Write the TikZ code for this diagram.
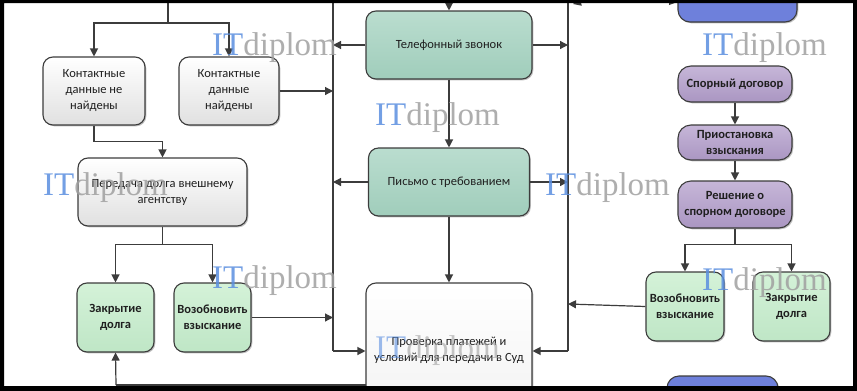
\documentclass[tikz,border=0pt]{standalone}
\usepackage{fontspec}
\setmainfont{Carlito}
\newfontfamily\wmfont{Liberation Serif}
\usetikzlibrary{arrows.meta,shadows}
\definecolor{lnc}{HTML}{3C3C3C}
\definecolor{itblue}{HTML}{5B8FE0}
\definecolor{dipgray}{HTML}{A0A0A0}
\definecolor{tealtop}{HTML}{BADDCF}
\definecolor{tealbot}{HTML}{A0CDBB}
\definecolor{greentop}{HTML}{D4F2D8}
\definecolor{greenbot}{HTML}{BFE6C6}
\definecolor{purptop}{HTML}{C6B6D8}
\definecolor{purpbot}{HTML}{AA96C2}
\definecolor{bluefill}{HTML}{6E80DB}
\tikzset{
  box/.style={draw=lnc, line width=1.1pt, rounded corners=10pt, align=center, inner sep=2pt,
    font=\fontsize{12.5}{16}\selectfont, text=black!88,
    drop shadow={shadow xshift=1.3pt, shadow yshift=-1.3pt, opacity=0.25, fill=black}},
  greybox/.style={box, top color=white, bottom color=black!12},
  tealbox/.style={box, top color=tealtop, bottom color=tealbot},
  greenbox/.style={box, top color=greentop, bottom color=greenbot, font=\fontsize{12.5}{16}\selectfont\bfseries},
  purplebox/.style={box, rounded corners=13pt, top color=purptop, bottom color=purpbot, font=\fontsize{12.5}{16}\selectfont\bfseries},
  bluebox/.style={box, rounded corners=12pt, fill=bluefill},
  whitebox/.style={box, top color=white, bottom color=black!5},
  lin/.style={draw=lnc, line width=1.2pt},
  arr/.style={lin, -{Triangle[length=8pt,width=8pt]}},
  wm/.style={inner sep=0pt, anchor=base west, font=\wmfont\fontsize{33}{33}\selectfont, opacity=0.85},
}
\begin{document}
\begin{tikzpicture}[x=1pt,y=-1pt]
\useasboundingbox (0,0) rectangle (857,391);
\fill[white] (0,0) rectangle (857,391);

% ---------- coordinates ----------
\coordinate (topL) at (168,0);
\coordinate (jL) at (168,23);
\coordinate (topC) at (449,0);
\coordinate (busLtop) at (333,0);
\coordinate (busLbot) at (333,351);
\coordinate (busRtop) at (568,0);
\coordinate (busRbot) at (568,351);
\coordinate (prOut) at (366,385);
\coordinate (corner) at (116,385);
\coordinate (vzIn) at (568,304);

% ---------- nodes ----------
\node[greybox, minimum width=102pt, minimum height=68pt] (kn) at (94,91) {Контактные\\данные не\\найдены};
\node[greybox, minimum width=100pt, minimum height=68pt] (kf) at (229,91) {Контактные\\данные\\найдены};
\node[greybox, minimum width=169pt, minimum height=68pt] (pd) at (162.5,192) {Передача долга внешнему\\агентству};
\node[greenbox, minimum width=77pt, minimum height=69pt] (zd1) at (115.5,317.5) {Закрытие\\долга};
\node[greenbox, minimum width=77pt, minimum height=69pt] (vz1) at (212.5,317.5) {Возобновить\\взыскание};

\node[tealbox, minimum width=166pt, minimum height=68pt] (tz) at (449,45) {Телефонный звонок};
\node[tealbox, minimum width=161pt, minimum height=68pt] (pt) at (449,182) {Письмо с требованием};
\node[whitebox, minimum width=166pt, minimum height=134pt] (pr) at (449,350) {Проверка платежей и\\условий для передачи в Суд};

\node[bluebox, minimum width=119pt, minimum height=40pt] (bt) at (737.5,2) {};
\node[purplebox, minimum width=114pt, minimum height=36pt] (sd) at (735,84) {Спорный договор};
\node[purplebox, minimum width=114pt, minimum height=35pt] (pv) at (735,142.5) {Приостановка\\взыскания};
\node[purplebox, minimum width=114pt, minimum height=47pt] (rs) at (735,204.5) {Решение о\\спорном договоре};
\node[greenbox, minimum width=78pt, minimum height=69pt] (vz2) at (685,306.5) {Возобновить\\взыскание};
\node[greenbox, minimum width=77pt, minimum height=69pt] (zd2) at (791.5,306.5) {Закрытие\\долга};
\node[bluebox, minimum width=111pt, minimum height=40pt] (bb) at (722.5,396) {};

% ---------- connectors ----------
\draw[lin] (topL) -- (jL);
\draw[arr] (jL) -| (kn.north);
\draw[arr] (jL) -| (kf.north);
\draw[arr] (kf.east) -- (kf.east -| busLtop);
\draw[arr] (kn.south) -- ++(0,16) -| (pd.north);
\draw[lin] (pd.south) -- ++(0,18) coordinate (jP);
\draw[arr] (jP) -| (zd1.north);
\draw[arr] (jP) -| (vz1.north);
\draw[arr] (vz1.east) -- (vz1.east -| busLtop);
\draw[lin] (busLtop) -- (busLbot);
\draw[arr] (busLbot) -- (busLbot -| pr.west);
\draw[lin] (busRtop) -- (busRbot);
\draw[arr] (busRbot) -- (busRbot -| pr.east);
\draw[arr] (topC) -- (tz.north);
\draw[arr] (tz.south) -- (pt.north);
\draw[arr] (pt.south) -- (pr.north);
\draw[arr] (tz.west) -- (tz.west -| busLtop);
\draw[arr] (tz.east) -- (tz.east -| busRtop);
\draw[arr] (pt.west) -- (pt.west -| busLtop);
\draw[arr] (pt.east) -- (pt.east -| busRtop);
\draw[lin] (prOut) -- (corner);
\draw[arr] (corner) -- (zd1.south);
\draw[arr] (vz2.west) -- (vzIn);
\draw[arr] (sd.south) -- (pv.north);
\draw[arr] (pv.south) -- (rs.north);
\draw[lin] (rs.south) -- ++(0,16) coordinate (jR);
\draw[arr] (jR) -| (vz2.north);
\draw[arr] (jR) -| (zd2.north);
\draw[arr] (600,-4) -- (573,4);
\draw[arr] (640,-3) -- (bt.west);

% ---------- watermarks ----------
\node[wm] (w1) at (212,55) {\textcolor{itblue}{IT}\textcolor{dipgray}{diplom}};
\node[wm] (w2) at (43,195) {\textcolor{itblue}{IT}\textcolor{dipgray}{diplom}};
\node[wm] (w3) at (375,125) {\textcolor{itblue}{IT}\textcolor{dipgray}{diplom}};
\node[wm] (w4) at (545,195) {\textcolor{itblue}{IT}\textcolor{dipgray}{diplom}};
\node[wm] (w5) at (212,288) {\textcolor{itblue}{IT}\textcolor{dipgray}{diplom}};
\node[wm, opacity=0.6] (w6) at (375,358) {\textcolor{itblue}{IT}\textcolor{dipgray}{diplom}};
\node[wm] (w7) at (702,55) {\textcolor{itblue}{IT}\textcolor{dipgray}{diplom}};
\node[wm] (w8) at (702,290) {\textcolor{itblue}{IT}\textcolor{dipgray}{diplom}};

% ---------- frame ----------
\fill[black, even odd rule] (-20,-60) rectangle (877,440) (4,3) rectangle (853,386);
\end{tikzpicture}
\end{document}
